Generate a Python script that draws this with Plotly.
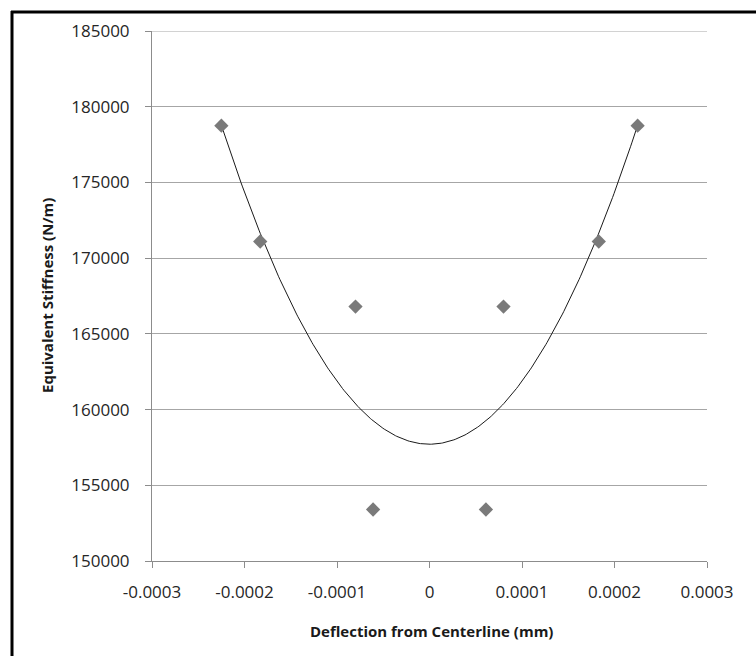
import numpy as np
import plotly.graph_objects as go

# Data
deflection = [-0.000225, -0.000183, -0.00008, -0.000061, 0.000061, 0.00008, 0.000183, 0.000225]
stiffness = [178750, 171100, 166800, 153400, 153400, 166800, 171100, 178750]
x_ticks = [-0.0003, -0.0002, -0.0001, 0, 0.0001, 0.0002, 0.0003]
x_ticktext = ["-0.0003", "-0.0002", "-0.0001", "0", "0.0001", "0.0002", "0.0003"]
y_ticks = [150000, 155000, 160000, 165000, 170000, 175000, 180000, 185000]
y_ticktext = ["150000", "155000", "160000", "165000", "170000", "175000", "180000", "185000"]

# Quadratic trendline (as in Excel)
coef = np.polyfit(deflection, stiffness, 2)
xf = np.linspace(min(deflection), max(deflection), 300)
yf = np.polyval(coef, xf)

W, H = 756, 656
L, R, T, B = 152, 49, 31, 95
pw, ph = W - L - R, H - T - B

def px(x):
    return (x - L) / pw

def py(y):
    return (H - B - y) / ph

fig = go.Figure()
fig.add_trace(go.Scatter(x=xf, y=yf, mode="lines",
                         line=dict(color="#1a1a1a", width=1), hoverinfo="skip"))
fig.add_trace(go.Scatter(x=deflection, y=stiffness, mode="markers",
                         marker=dict(symbol="diamond", size=11, color="#7a7a7a",
                                     line=dict(width=0))))

tickfont = dict(family="Open Sans, Liberation Sans, sans-serif", size=17, color="#262626")
titlefont = dict(family="Open Sans, Liberation Sans, sans-serif", size=15, color="#1a1a1a")

fig.update_layout(
    width=W, height=H,
    margin=dict(l=L, r=R, t=T, b=B),
    paper_bgcolor="white", plot_bgcolor="white",
    showlegend=False,
    xaxis=dict(range=[-0.0003, 0.0003], tickvals=x_ticks, ticktext=x_ticktext,
               showgrid=False, zeroline=False, showline=True, linecolor="#8c8c8c",
               linewidth=1, ticks="outside", ticklen=6, tickcolor="#8c8c8c",
               tickfont=tickfont, ticklabelstandoff=10),
    yaxis=dict(range=[150000, 185000], tickvals=y_ticks, ticktext=y_ticktext,
               showgrid=True, gridcolor="#a6a6a6", gridwidth=1, zeroline=False,
               showline=True, linecolor="#8c8c8c", linewidth=1,
               ticks="outside", ticklen=6, tickcolor="#8c8c8c",
               tickfont=tickfont, ticklabelstandoff=12),
    annotations=[
        dict(text="<b>Equivalent Stiffness (N/m)</b>", xref="paper", yref="paper",
             x=px(47), y=py(296), textangle=-90, showarrow=False,
             xanchor="center", yanchor="middle", font=titlefont),
        dict(text="<b>Deflection from Centerline (mm)</b>", xref="paper", yref="paper",
             x=px(431), y=py(631), showarrow=False, xanchor="center", yanchor="middle",
             font=titlefont),
    ],
    shapes=[
        dict(type="line", xref="paper", yref="y", x0=0, x1=1,
             y0=185000, y1=185000, line=dict(color="#a6a6a6", width=1)),
        dict(type="line", xref="paper", yref="paper", x0=px(12), x1=px(12),
             y0=py(11), y1=py(700), line=dict(color="black", width=3)),
        dict(type="line", xref="paper", yref="paper", x0=px(11), x1=px(800),
             y0=py(12), y1=py(12), line=dict(color="black", width=3)),
    ],
)

fig.write_html("out.html")
